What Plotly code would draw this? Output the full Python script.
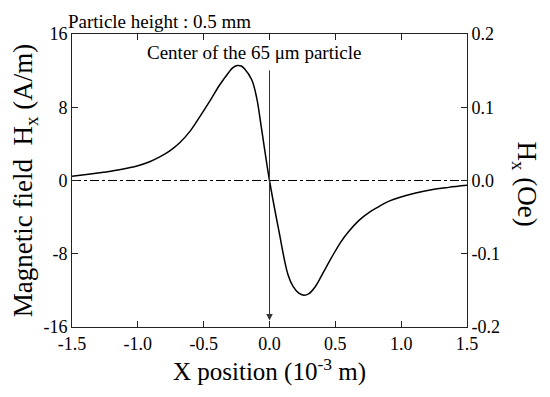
import plotly.graph_objects as go

# Data
x_pos = [-1.5, -1.36, -1.26, -1.13, -1.0, -0.91, -0.83, -0.76, -0.68, -0.60, -0.53, -0.45, -0.38,
         -0.31, -0.28, -0.245, -0.215, -0.19, -0.135, -0.097, -0.06, 0.0, 0.07, 0.14, 0.18, 0.22,
         0.26, 0.30, 0.35, 0.41, 0.47, 0.54, 0.60, 0.68, 0.76, 0.83, 0.90, 0.98, 1.11, 1.23,
         1.36, 1.5]
hx_am = [0.45, 0.7, 0.9, 1.2, 1.62, 2.05, 2.6, 3.2, 4.15, 5.45, 6.95, 8.75, 10.4,
         11.8, 12.3, 12.55, 12.5, 12.2, 11.0, 9.0, 5.6, 0.0, -5.4, -10.27, -11.6, -12.27,
         -12.53, -12.35, -11.55, -10.0, -8.45, -6.75, -5.6, -4.35, -3.45, -2.85, -2.3, -1.88, -1.36, -1.0,
         -0.75, -0.53]

x_ticks = [-1.5, -1.0, -0.5, 0.0, 0.5, 1.0, 1.5]
x_ticktext = ["-1.5", "-1.0", "-0.5", "0.0", "0.5", "1.0", "1.5"]
y_ticks = [-16, -8, 0, 8, 16]
y_ticktext = ["-16", "-8", "0", "8", "16"]
y2_ticks = [-0.2, -0.1, 0.0, 0.1, 0.2]
y2_ticktext = ["-0.2", "-0.1", "0.0", "0.1", "0.2"]

FONT = "Liberation Serif"

fig = go.Figure()
fig.add_trace(go.Scatter(x=x_pos, y=hx_am, mode="lines",
                         line=dict(color="black", width=1.5, shape="spline", smoothing=1.0),
                         showlegend=False, hoverinfo="x+y"))
# zero reference line
fig.add_trace(go.Scatter(x=[x_ticks[0], x_ticks[-1]], y=[0, 0], mode="lines",
                         line=dict(color="black", width=1, dash="dashdot"), showlegend=False, hoverinfo="skip"))
# invisible trace for secondary axis
fig.add_trace(go.Scatter(x=[x_ticks[0], x_ticks[-1]], y=[y2_ticks[0], y2_ticks[-1]], yaxis="y2", mode="lines",
                         line=dict(width=0), opacity=0, showlegend=False, hoverinfo="skip"))

axis_common = dict(showline=True, linecolor="#222", linewidth=1, ticks="inside", ticklen=6,
                   tickcolor="#222", showgrid=False, zeroline=False, automargin=False,
                   tickfont=dict(family=FONT, size=18, color="black"))

# the page body adds an 8px offset, so the figure is sized/margined to compensate
fig.update_layout(
    width=542, height=389,
    margin=dict(l=64, r=83, t=26, b=70),
    paper_bgcolor="white", plot_bgcolor="white",
    font=dict(family=FONT, color="black"),
    xaxis=dict(range=[-1.5, 1.5], tickvals=x_ticks, ticktext=x_ticktext, mirror="ticks",
               title=dict(text="X position (10<sup>-3</sup> m)", font=dict(family=FONT, size=25), standoff=4),
               **axis_common),
    yaxis=dict(range=[-16, 16], tickvals=y_ticks, ticktext=y_ticktext,
               title=dict(text="Magnetic field  H<sub>x</sub> (A/m)", font=dict(family=FONT, size=27), standoff=4),
               **axis_common),
    yaxis2=dict(range=[-0.2, 0.2], tickvals=y2_ticks, ticktext=y2_ticktext, overlaying="y", side="right",
                **axis_common),
)

fig.add_annotation(text="Particle height : 0.5 mm", xref="paper", yref="paper", x=-0.015, y=1.0,
                   xanchor="left", yanchor="bottom", showarrow=False, yshift=0,
                   font=dict(family=FONT, size=19))
fig.add_annotation(text="Center of the 65 μm particle", xref="x", yref="y", x=-0.12, y=12.6,
                   xanchor="center", yanchor="bottom", showarrow=False,
                   font=dict(family=FONT, size=19))
fig.add_annotation(x=0, y=-15.3, xref="x", yref="y", ax=0, ay=12.2, axref="x", ayref="y",
                   showarrow=True, arrowhead=2, arrowsize=1.3, arrowwidth=1, arrowcolor="#333", text="")
fig.add_annotation(text="H<sub>x</sub> (Oe)", xref="paper", yref="paper", x=1.0, y=0.5, xshift=58, yshift=-3,
                   textangle=90, showarrow=False, xanchor="center", yanchor="middle",
                   font=dict(family=FONT, size=27))

fig.write_html("out.html")
